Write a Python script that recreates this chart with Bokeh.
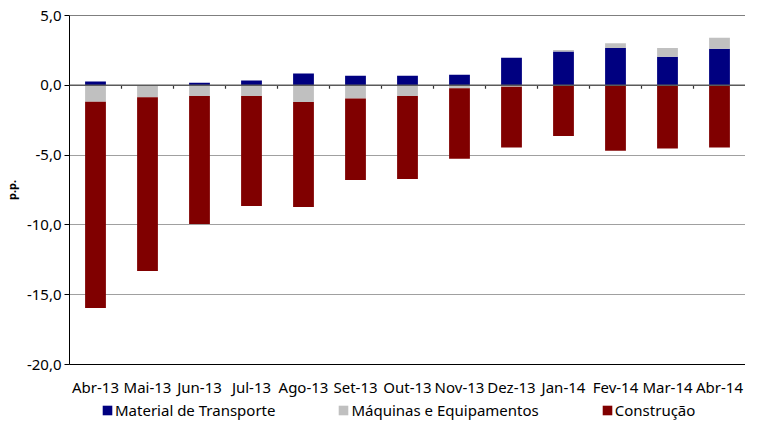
import numpy as np
from bokeh.plotting import figure
from bokeh.layouts import column
from bokeh.models import (ColumnDataSource, Range1d, FixedTicker, CustomJSTickFormatter,
                          Span, Legend, LegendItem)
from bokeh.embed import file_html
from bokeh.resources import INLINE

# ---- data ----
months = ["Abr-13", "Mai-13", "Jun-13", "Jul-13", "Ago-13", "Set-13", "Out-13",
          "Nov-13", "Dez-13", "Jan-14", "Fev-14", "Mar-14", "Abr-14"]
series_names = ["Material de Transporte", "Máquinas e Equipamentos", "Construção"]
material_transporte = [0.28, 0.00, 0.19, 0.35, 0.85, 0.68, 0.68, 0.75, 1.97, 2.42, 2.68, 2.04, 2.61]
maquinas_equip = [-1.18, -0.85, -0.77, -0.77, -1.20, -0.94, -0.77, -0.21, -0.10, 0.10, 0.33, 0.63, 0.80]
construcao = [-14.78, -12.46, -9.16, -7.87, -7.51, -5.84, -5.94, -5.05, -4.36, -3.64, -4.69, -4.53, -4.46]
colors = ["#000080", "#C0C0C0", "#800000"]
y_ticks = [-20, -15, -10, -5, 0, 5]

FONT = "Noto Sans"

p = figure(width=745, height=399, output_backend="svg", toolbar_location=None,
           x_range=Range1d(0, len(months)), y_range=Range1d(-20, 5),
           min_border_left=63, min_border_top=15, min_border_right=0, min_border_bottom=20)
p.outline_line_color = None
p.background_fill_color = "white"

x = np.arange(len(months)) + 0.5
pos_base = np.zeros(len(months))
neg_base = np.zeros(len(months))
sources = []
for name, vals, col in zip(series_names, [material_transporte, maquinas_equip, construcao], colors):
    v = np.array(vals, dtype=float)
    bottom = np.where(v >= 0, pos_base, neg_base + v)
    top = np.where(v >= 0, pos_base + v, neg_base)
    pos_base = np.where(v >= 0, pos_base + v, pos_base)
    neg_base = np.where(v < 0, neg_base + v, neg_base)
    src = ColumnDataSource(dict(x=x, bottom=bottom, top=top))
    sources.append(src)
    p.vbar(x="x", bottom="bottom", top="top", width=0.4, source=src,
           fill_color=col, line_color=None)

# grid
p.xgrid.grid_line_color = None
p.ygrid.ticker = FixedTicker(ticks=y_ticks)
p.ygrid.grid_line_color = "#A0A0A0"
p.ygrid.grid_line_width = 1

# top line and zero line
p.add_layout(Span(location=5, dimension="width", line_color="#000000", line_width=1, level="overlay"))
p.add_layout(Span(location=0, dimension="width", line_color="#5A5A5A", line_width=1.5, level="overlay"))

# category tick marks on zero line
bx = np.arange(1, len(months))
p.segment(x0=bx, y0=np.zeros(len(bx)), x1=bx, y1=np.full(len(bx), -0.25),
          line_color="#333333", line_width=1.2)

# y axis
yax = p.yaxis[0]
yax.ticker = FixedTicker(ticks=y_ticks)
yax.formatter = CustomJSTickFormatter(code="return tick.toFixed(1).replace('.', ',');")
yax.major_label_text_font = FONT
yax.major_label_text_font_size = "15px"
yax.major_label_text_color = "#000000"
yax.axis_line_color = "#000000"
yax.major_tick_line_color = "#000000"
yax.major_tick_out = 5
yax.major_tick_in = 0
yax.minor_tick_line_color = None
yax.major_label_standoff = 3
yax.axis_label = "p.p."
yax.axis_label_text_font = FONT
yax.axis_label_text_font_size = "11px"
yax.axis_label_text_font_style = "bold"
yax.axis_label_text_color = "#000000"
yax.axis_label_standoff = 5

# x axis
xax = p.xaxis[0]
xax.ticker = FixedTicker(ticks=list(x))
xax.formatter = CustomJSTickFormatter(args=dict(labels=months),
                                      code="return labels[Math.round(tick - 0.5)] || '';")
xax.major_label_text_font = FONT
xax.major_label_text_font_size = "15px"
xax.major_label_text_color = "#000000"
xax.axis_line_color = "#000000"
xax.major_tick_out = 0
xax.major_tick_in = 0
xax.minor_tick_line_color = None
xax.major_label_standoff = 12

# ---- legend strip (series drawn out of view, only their legend entries show) ----
leg = figure(width=745, height=22, output_backend="svg", toolbar_location=None,
             x_range=Range1d(1000, 1001), y_range=Range1d(1000, 1001),
             x_axis_location=None, y_axis_location=None,
             min_border_left=0, min_border_right=0, min_border_top=0, min_border_bottom=0)
leg.outline_line_color = None
leg.xgrid.grid_line_color = None
leg.ygrid.grid_line_color = None
items = []
for name, src, col in zip(series_names, sources, colors):
    r = leg.vbar(x="x", bottom="bottom", top="top", width=0.4, source=src,
                 fill_color=col, line_color=None)
    items.append(LegendItem(label=name, renderers=[r]))
legend = Legend(items=items, orientation="horizontal", location=(32, 1),
                glyph_width=12, glyph_height=12, label_standoff=2, spacing=62,
                padding=0, margin=0, border_line_color=None, background_fill_alpha=0,
                label_text_font=FONT, label_text_font_size="15px", label_text_color="#000000")
leg.add_layout(legend, "center")

layout = column(p, leg, spacing=0)
open("out.html", "w").write(file_html(layout, INLINE))
